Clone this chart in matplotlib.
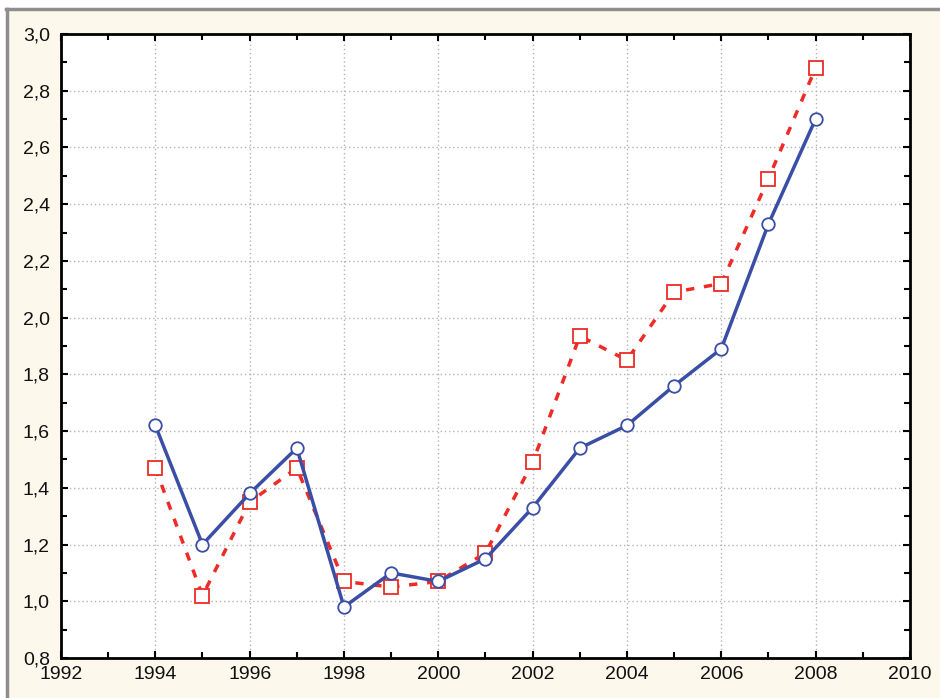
import matplotlib
matplotlib.use("Agg")
import matplotlib.pyplot as plt
from matplotlib.ticker import MultipleLocator, FuncFormatter
from matplotlib.lines import Line2D

plt.rcParams['font.family'] = ['Liberation Sans', 'DejaVu Sans']

years = [1994, 1995, 1996, 1997, 1998, 1999, 2000, 2001, 2002, 2003, 2004, 2005, 2006, 2007, 2008]
blue = [1.62, 1.20, 1.38, 1.54, 0.98, 1.10, 1.07, 1.15, 1.33, 1.54, 1.62, 1.76, 1.89, 2.33, 2.70]
red = [1.47, 1.02, 1.35, 1.47, 1.07, 1.05, 1.07, 1.17, 1.49, 1.935, 1.85, 2.09, 2.12, 2.49, 2.88]

fig = plt.figure(figsize=(9.4, 6.98), dpi=100)
fig.patch.set_facecolor('white')

# window-like frame: cream panel with gray top/left edge
fig.add_artist(plt.Rectangle((0.007, 0), 0.993, 0.988, transform=fig.transFigure,
                             facecolor='#fcf8ec', edgecolor='none', zorder=0))
fig.add_artist(Line2D([0.006, 1.0], [0.987, 0.987], transform=fig.transFigure,
                      color='#8e8e8e', lw=2.5))
fig.add_artist(Line2D([0.007, 0.007], [0.0, 0.987], transform=fig.transFigure,
                      color='#8e8e8e', lw=2.5))

ax = fig.add_axes([0.0649, 0.0573, 0.9031, 0.894])
ax.set_facecolor('white')

ax.plot(years, red, color='#ee2b24', lw=2.5, dashes=(2.4, 2.8),
        marker='s', markersize=10, markerfacecolor='white',
        markeredgecolor='#ee2b24', markeredgewidth=1.3, zorder=3)
ax.plot(years, blue, color='#3a4ea6', lw=2.5,
        marker='o', markersize=9, markerfacecolor='white',
        markeredgecolor='#3a4ea6', markeredgewidth=1.3, zorder=4)

ax.set_xlim(1992, 2010)
ax.set_ylim(0.8, 3.0)
ax.xaxis.set_major_locator(MultipleLocator(2))
ax.xaxis.set_minor_locator(MultipleLocator(1))
ax.yaxis.set_major_locator(MultipleLocator(0.2))
ax.yaxis.set_minor_locator(MultipleLocator(0.1))
ax.yaxis.set_major_formatter(FuncFormatter(lambda v, p: f"{v:.1f}".replace('.', ',')))

ax.grid(True, which='major', color='#b4b4b4', linestyle=(0, (1, 2)), lw=1.0)
ax.tick_params(which='both', direction='in', top=True, right=True,
               color='black', labelsize=14, labelcolor='#111111')
ax.tick_params(which='major', length=5, width=1.5)
ax.tick_params(which='minor', length=4, width=1.5)
ax.tick_params(axis='x', which='major', pad=6)
ax.tick_params(axis='y', which='major', pad=8)
for s in ax.spines.values():
    s.set_linewidth(2)
    s.set_color('black')

fig.savefig('out.png', dpi=100, facecolor=fig.get_facecolor())
